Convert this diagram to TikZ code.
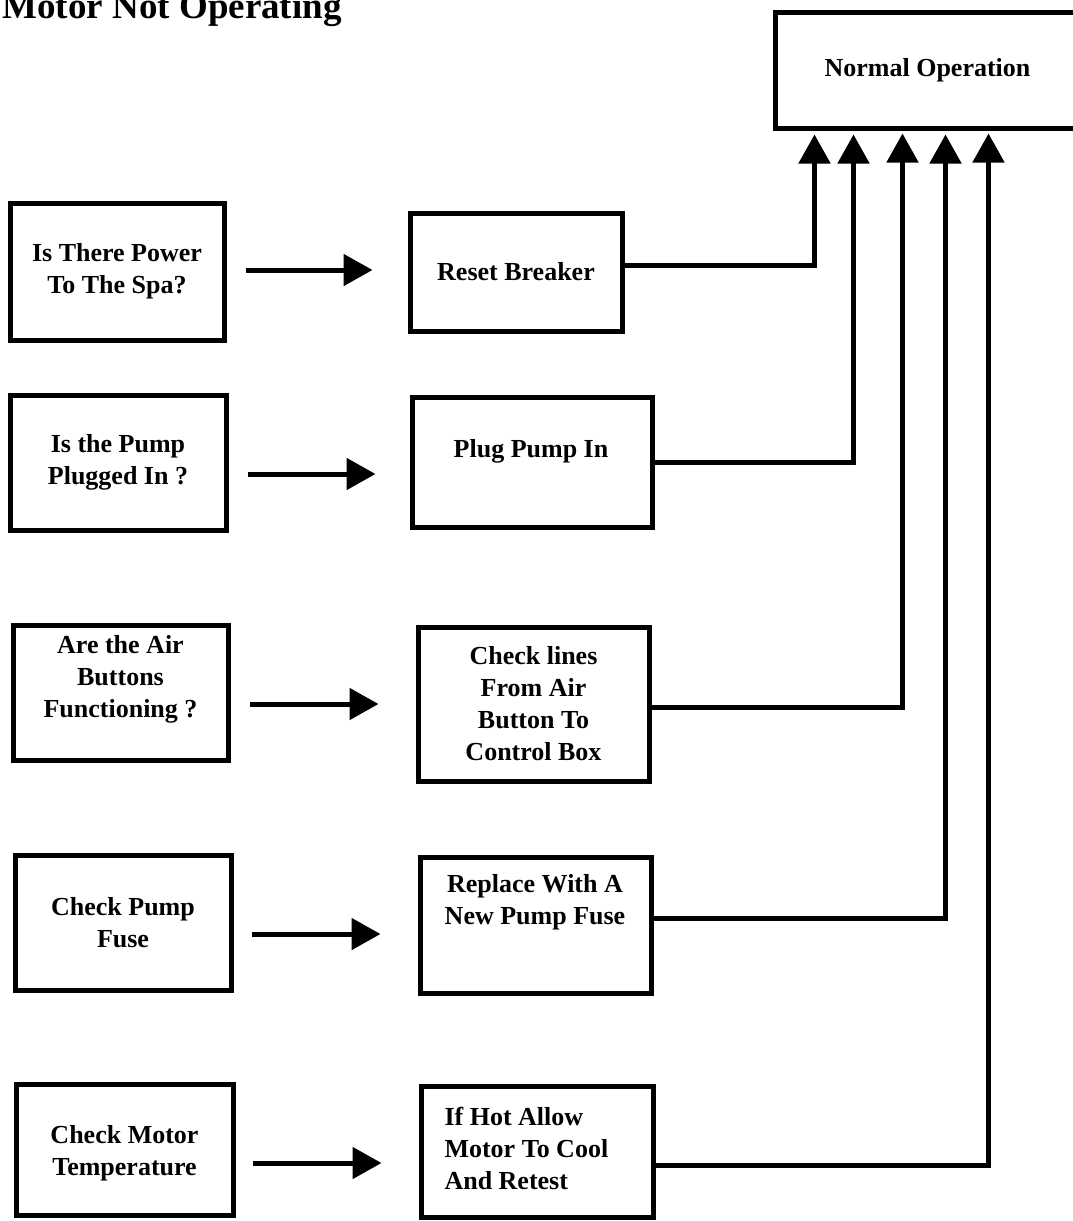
\documentclass[tikz,border=0pt]{standalone}
\usepackage{fontspec}
\setmainfont{Liberation Serif}
\usetikzlibrary{arrows.meta}
\begin{document}
\begin{tikzpicture}[x=1pt,y=-1pt,
    box/.style={draw, line width=5pt, inner sep=0pt, font=\bfseries\fontsize{26}{32}\selectfont, align=center},
    txt/.style={font=\bfseries\fontsize{26}{32}\selectfont, align=center},
    flow/.style={line width=5pt, -{Triangle[length=29pt,width=31pt]}}]
  \useasboundingbox (0,0) rectangle (1073,1221);
  \node[anchor=base west, font=\bfseries\fontsize{37}{44}\selectfont] (title) at (-1,18) {Motor Not Operating};
  \node[box, minimum width=305pt, minimum height=116pt] (normal) at (927.5,70) {Normal Operation};
  % questions
  \node[box, minimum width=214pt, minimum height=137pt] (power) at (117,271.5) {Is There Power\\To The Spa?};
  \node[box, minimum width=216pt, minimum height=135pt] (pump) at (118,462.5) {Is the Pump\\Plugged In ?};
  \node[box, minimum width=215pt, minimum height=135pt] (air) at (120.5,692.5) {};
  \node[txt] (airtxt) at (120.5,679) {Are the Air\\Buttons\\Functioning ?};
  \node[box, minimum width=216pt, minimum height=135pt] (fuse) at (123,922.5) {Check Pump\\Fuse};
  \node[box, minimum width=217pt, minimum height=131pt] (temp) at (124.5,1150) {};
  \node[txt] (temptxt) at (124.5,1153) {Check Motor\\Temperature};
  % fixes
  \node[box, minimum width=212pt, minimum height=118pt] (reset) at (516,272) {Reset Breaker};
  \node[box, minimum width=240pt, minimum height=130pt] (plug) at (532,462) {};
  \node[txt] (plugtxt) at (531,451) {Plug Pump In};
  \node[box, minimum width=231pt, minimum height=154pt] (lines) at (533.5,704) {Check lines\\From Air\\Button To\\Control Box};
  \node[box, minimum width=231pt, minimum height=136pt] (replace) at (535.5,925) {};
  \node[txt] (replacetxt) at (535,902) {Replace With A\\New Pump Fuse};
  \node[box, minimum width=232pt, minimum height=131pt] (hot) at (537,1152) {};
  \node[txt, align=left, anchor=west] (hottxt) at (441,1148) {If Hot Allow\\Motor To Cool\\And Retest};
  % question -> fix
  \draw[flow, shorten <=19pt, shorten >=35pt] ([yshift=1.5pt]power.east) -- ([yshift=1.5pt]power.east -| reset.west);
  \draw[flow, shorten <=19pt, shorten >=34pt] ([yshift=-11.5pt]pump.east) -- ([yshift=-11.5pt]pump.east -| plug.west);
  \draw[flow, shorten <=19pt, shorten >=37pt] ([yshift=-11.5pt]air.east) -- ([yshift=-11.5pt]air.east -| lines.west);
  \draw[flow, shorten <=18pt, shorten >=37pt] ([yshift=-11.5pt]fuse.east) -- ([yshift=-11.5pt]fuse.east -| replace.west);
  \draw[flow, shorten <=17pt, shorten >=37pt] ([yshift=-13pt]temp.east) -- ([yshift=-13pt]temp.east -| hot.west);
  % fix -> normal operation
  \draw[flow, shorten >=4pt] ([yshift=7pt]reset.east) -| ([xshift=42pt]normal.south west);
  \draw[flow, shorten >=4pt] (plug.east) -| ([xshift=81pt]normal.south west);
  \draw[flow, shorten >=3pt] ([yshift=-3pt]lines.east) -| ([xshift=130pt]normal.south west);
  \draw[flow, shorten >=4pt] ([yshift=7pt]replace.east) -| ([xshift=173pt]normal.south west);
  \draw[flow, shorten >=3pt] ([yshift=-13pt]hot.east) -| ([xshift=216pt]normal.south west);
\end{tikzpicture}
\end{document}
